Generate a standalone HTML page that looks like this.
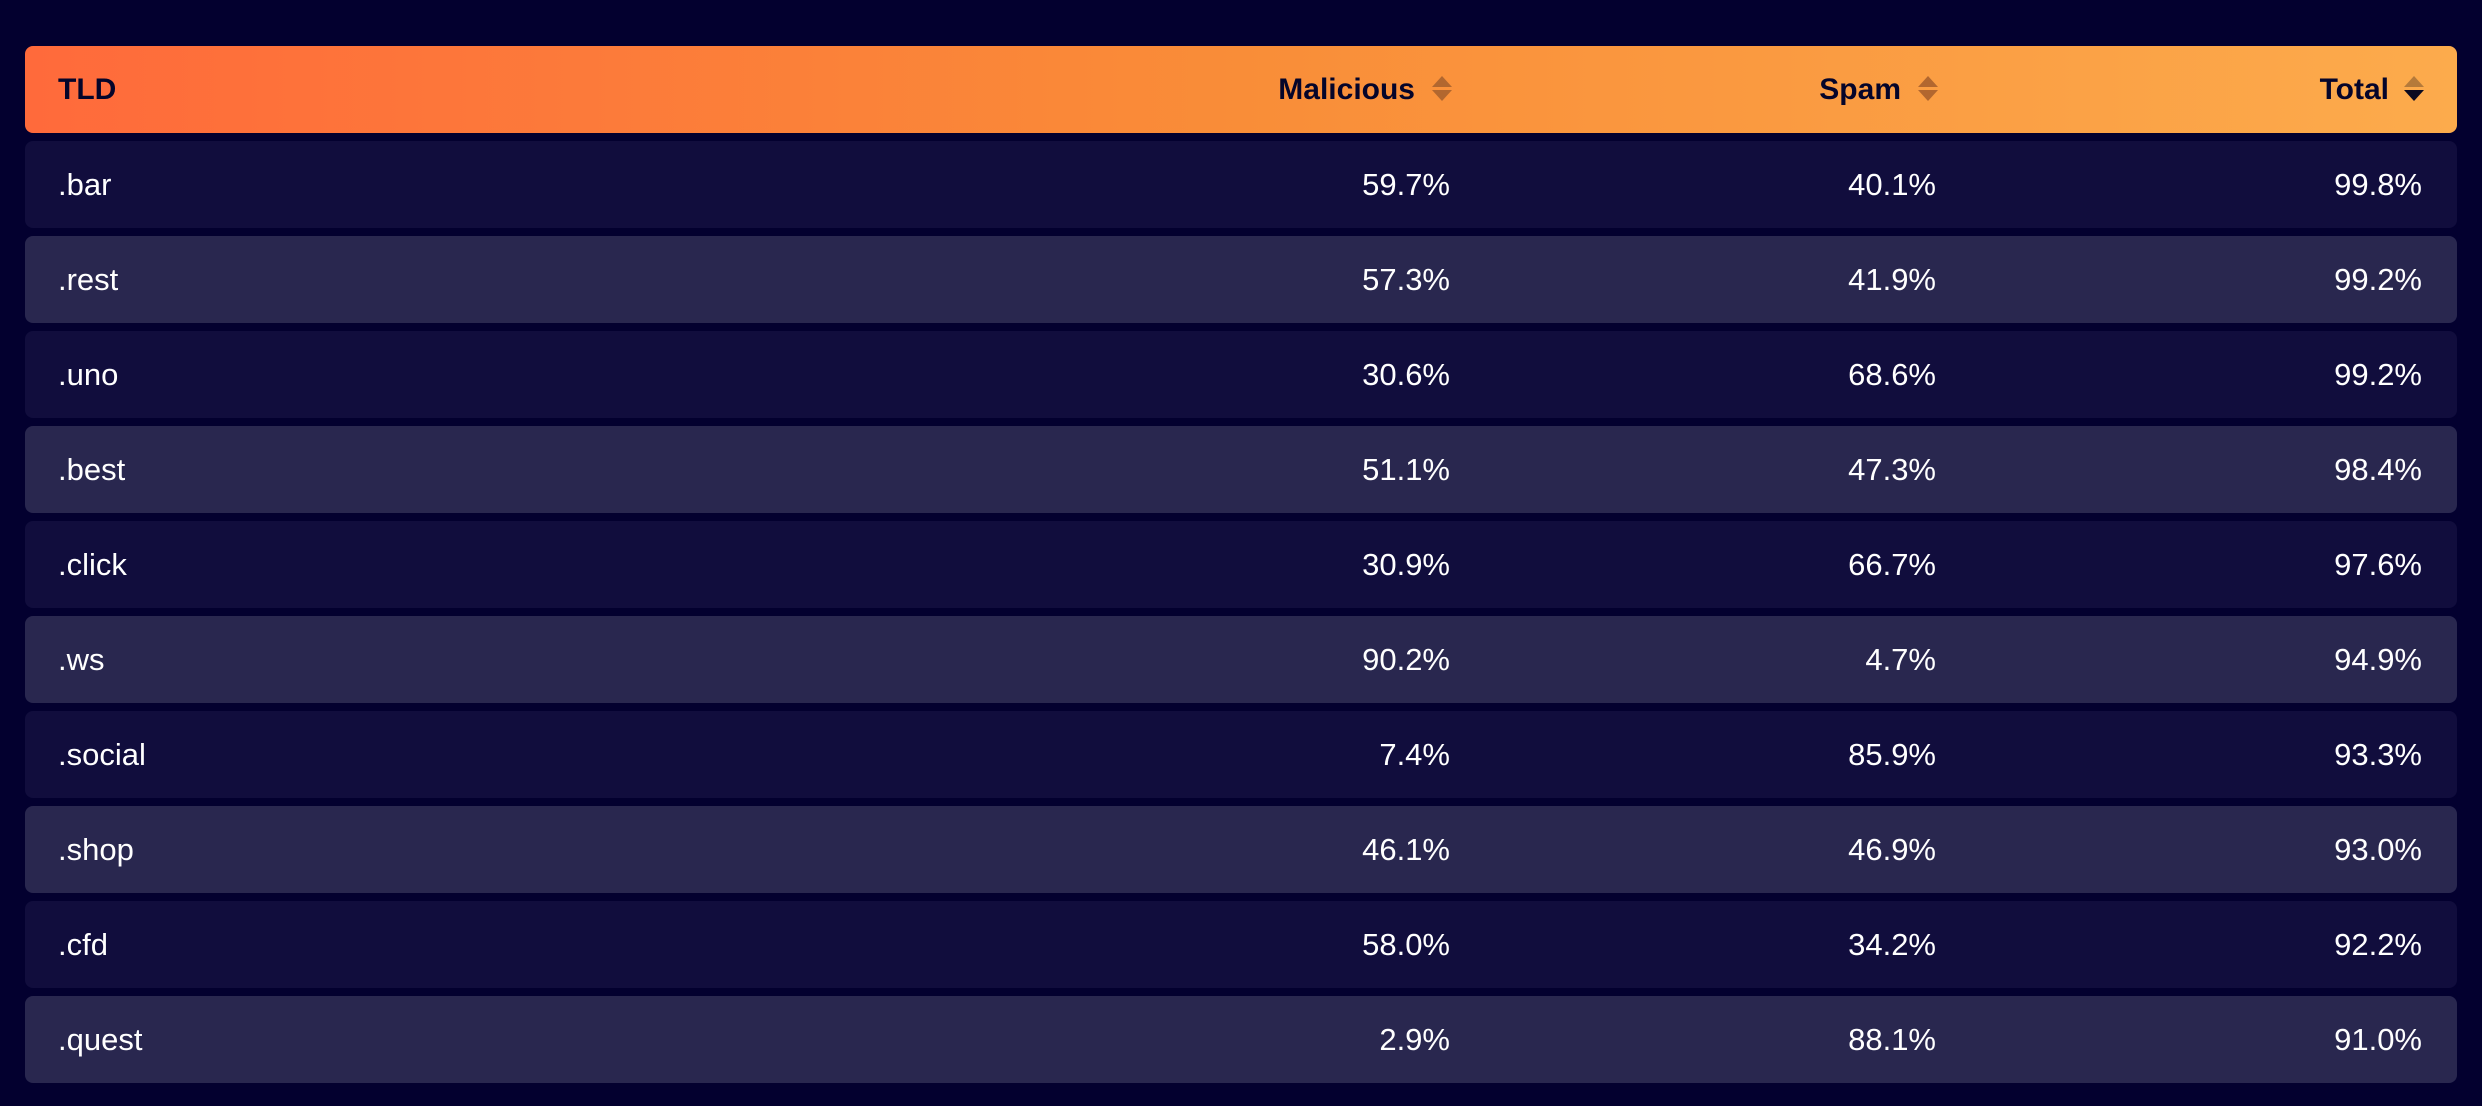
<!DOCTYPE html>
<html><head><style>
*{margin:0;padding:0;box-sizing:border-box}
body{width:2482px;height:1106px;background:#03002f;font-family:"Liberation Sans",sans-serif;position:relative;overflow:hidden}
.hdr{position:absolute;left:25px;top:46px;width:2432px;height:87px;border-radius:8px;background:linear-gradient(90deg,#ff6a3b 0%,#f98d38 50%,#fcab4c 100%)}
.row{position:absolute;left:25px;width:2432px;height:87px;border-radius:8px}
.o{background:#110d3d}.e{background:#29274f}
.t{position:absolute;top:0;height:87px;line-height:87px;font-size:31px;color:#fff}
.h{font-weight:bold;color:#05052a;font-size:30px}
.ar{position:absolute;width:20px;height:26px;top:30px}
.ar:before,.ar:after{content:"";position:absolute;left:0;border-left:10px solid transparent;border-right:10px solid transparent}
.ar:before{top:0;border-bottom:11px solid #b2672f}
.ar:after{top:14px;border-top:11px solid #b2672f}
.ar.act:after{border-top-color:#0a0a20}
.ar.act:before{border-bottom-color:#b57a3a}
</style></head><body>
<div class="hdr">
<div class="t h" style="left:33px">TLD</div>
<div class="t h" style="right:1042px">Malicious</div><div class="ar" style="left:1407px"></div>
<div class="t h" style="right:556px">Spam</div><div class="ar" style="left:1893px"></div>
<div class="t h" style="right:68px">Total</div><div class="ar act" style="left:2379px"></div>
</div>
<div id="rows"></div>
<script>
var d=[[".bar","59.7%","40.1%","99.8%"],[".rest","57.3%","41.9%","99.2%"],[".uno","30.6%","68.6%","99.2%"],[".best","51.1%","47.3%","98.4%"],[".click","30.9%","66.7%","97.6%"],[".ws","90.2%","4.7%","94.9%"],[".social","7.4%","85.9%","93.3%"],[".shop","46.1%","46.9%","93.0%"],[".cfd","58.0%","34.2%","92.2%"],[".quest","2.9%","88.1%","91.0%"]];
var h="";
d.forEach(function(r,i){h+='<div class="row '+(i%2?'e':'o')+'" style="top:'+(141+95*i)+'px"><div class="t" style="left:33px">'+r[0]+'</div><div class="t" style="right:1007px">'+r[1]+'</div><div class="t" style="right:521px">'+r[2]+'</div><div class="t" style="right:35px">'+r[3]+'</div></div>';});
document.getElementById("rows").innerHTML=h;
</script>
</body></html>
